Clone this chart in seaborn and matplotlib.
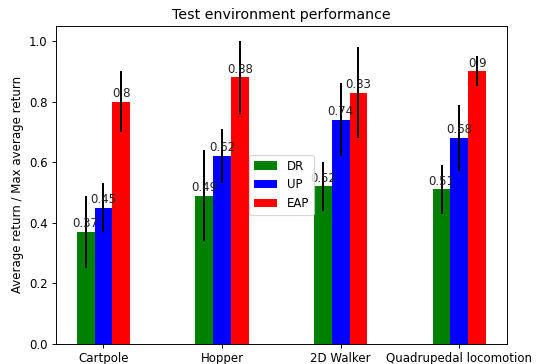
import matplotlib
matplotlib.use("Agg")
import matplotlib.pyplot as plt
import seaborn as sns
import pandas as pd

categories = ["Cartpole", "Hopper", "2D Walker", "Quadrupedal locomotion"]
methods = ["DR", "UP", "EAP"]
dr_vals = [0.37, 0.49, 0.52, 0.51]
up_vals = [0.45, 0.62, 0.74, 0.68]
eap_vals = [0.8, 0.88, 0.83, 0.9]
dr_err = [0.12, 0.15, 0.08, 0.08]
up_err = [0.08, 0.09, 0.12, 0.11]
eap_err = [0.10, 0.12, 0.15, 0.05]
colors = {"DR": "green", "UP": "blue", "EAP": "red"}

vals = {"DR": dr_vals, "UP": up_vals, "EAP": eap_vals}
errs = {"DR": dr_err, "UP": up_err, "EAP": eap_err}
rows = []
for m in methods:
    for c, v in zip(categories, vals[m]):
        rows.append({"env": c, "method": m, "value": v})
df = pd.DataFrame(rows)

DPI = 85
fig, ax = plt.subplots(figsize=(538 / DPI, 364 / DPI), dpi=DPI)
fig.subplots_adjust(left=0.104, right=0.942, top=0.929, bottom=0.055)

sns.barplot(data=df, x="env", y="value", hue="method", hue_order=methods,
            order=categories, palette=colors, saturation=1, width=0.45,
            errorbar=None, ax=ax, linewidth=0)

for cont, m in zip(ax.containers, methods):
    xs = [p.get_x() + p.get_width() / 2 for p in cont.patches]
    hs = [p.get_height() for p in cont.patches]
    ax.errorbar(xs, hs, yerr=errs[m], fmt="none", ecolor="black",
                elinewidth=1.7, capsize=0)
    ax.bar_label(cont, labels=[f"{v:g}" for v in vals[m]], padding=1.5,
                 fontsize=10, color="#222222")

ax.set_xlim(-0.4, 3.4)
ax.set_ylim(0, 1.05)
ax.set_yticks([0.0, 0.2, 0.4, 0.6, 0.8, 1.0])
ax.set_xlabel("")
ax.set_ylabel("Average return / Max average return", fontsize=10)
ax.set_title("Test environment performance", fontsize=12)
ax.legend(loc="center", fontsize=10)

fig.savefig("out.png", dpi=DPI)
